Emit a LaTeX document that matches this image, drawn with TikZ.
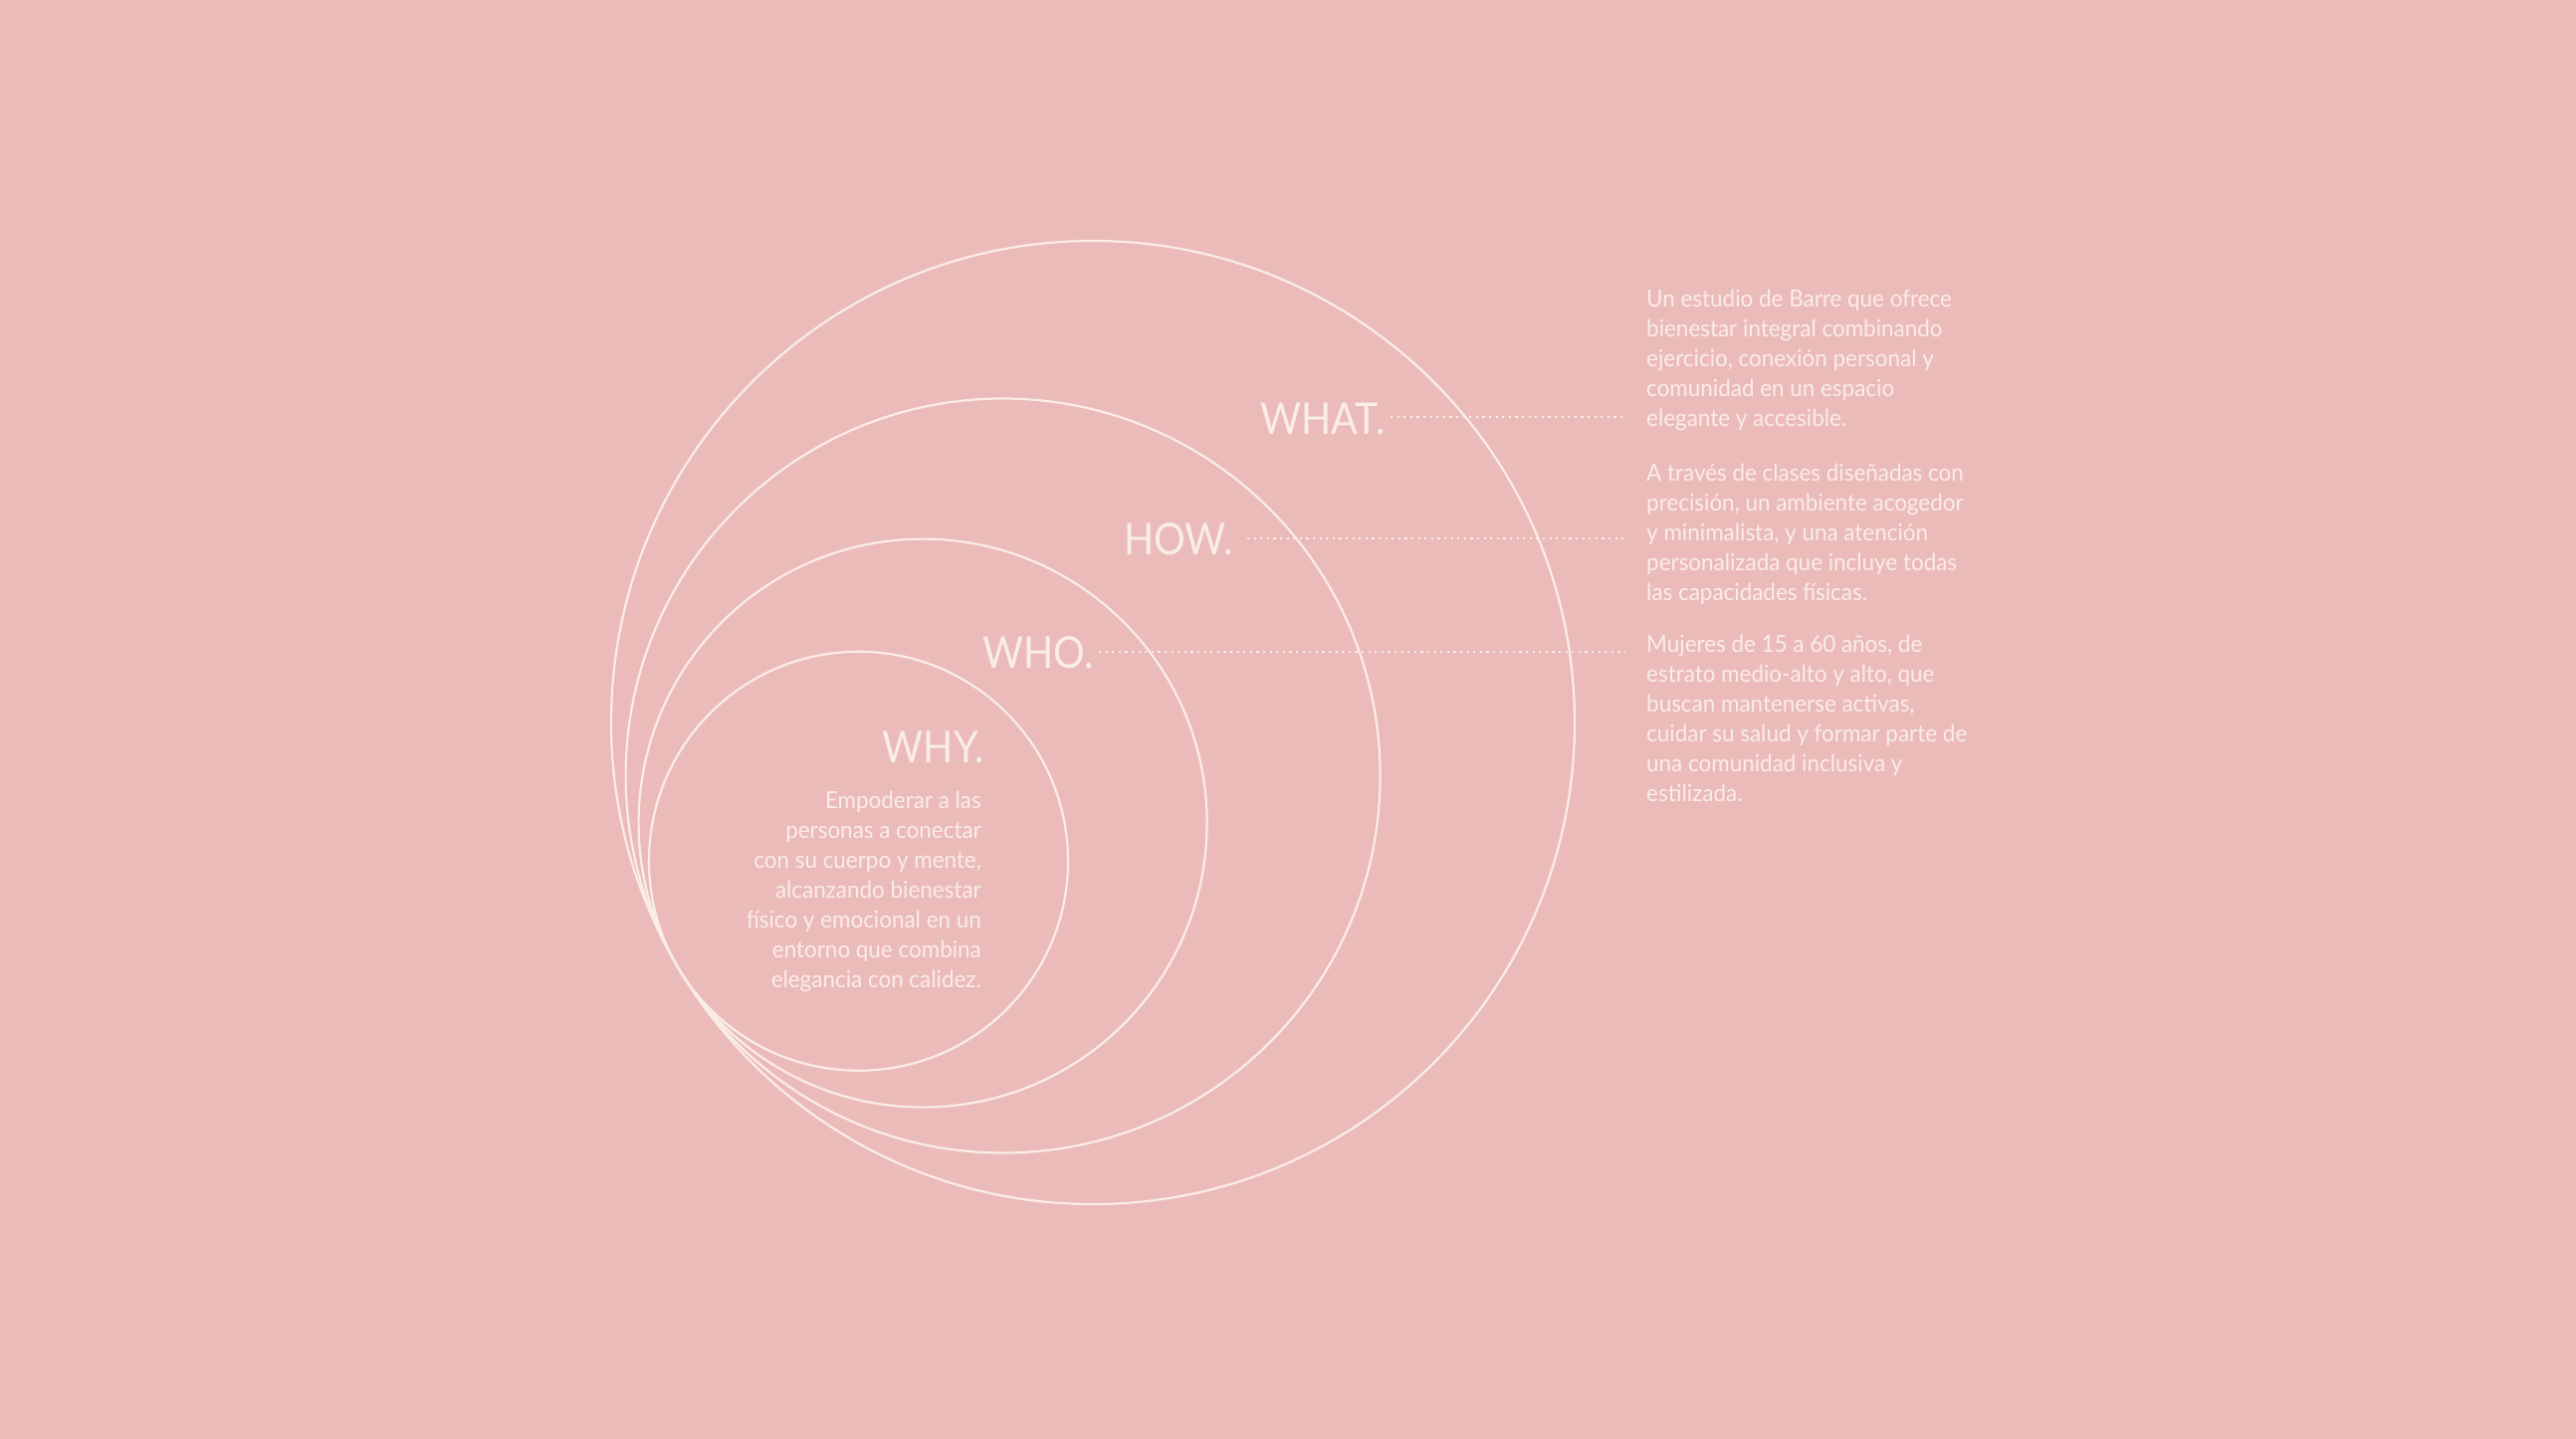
\documentclass[tikz,border=0pt]{standalone}
\usepackage{fontspec}
\setmainfont{Lato}
\definecolor{bgpink}{RGB}{235,187,186}
\definecolor{cream}{RGB}{250,237,229}
\begin{document}
\begin{tikzpicture}[x=1bp,y=-1bp,
  ring/.style={draw=cream, line width=2.2bp},
  lbl/.style={text=cream, inner sep=0, anchor=base east, font=\fontsize{44bp}{44bp}\selectfont\addfontfeature{FakeStretch=0.9}},
  body/.style={text=cream, inner sep=0, font=\fontsize{23.6bp}{30bp}\selectfont\addfontfeature{FakeStretch=0.95}},
  leader/.style={draw=cream, line width=2bp, dash pattern=on 2.2bp off 4.4bp}]
\fill[bgpink] (0,0) rectangle (2588,1446);
\useasboundingbox (0,0) rectangle (2588,1446);
% circles, internally tangent at lower left
\draw[ring] (1098,726) circle[radius=484bp];
\draw[ring] (1007.6,779.5) circle[radius=379bp];
\draw[ring] (927.1,827.1) circle[radius=285.5bp];
\draw[ring] (862.5,865.3) circle[radius=210.5bp];
% labels
\node[lbl] (whatlbl) at (1392,436) {WHAT.};
\node[lbl] (howlbl) at (1239,557) {HOW.};
\node[lbl] (wholbl) at (1099,671) {WHO.};
\node[lbl] (whylbl) at (989,766) {WHY.};
% leader ends
\coordinate (whatstart) at (1397,419);
\coordinate (whatend) at (1633,419);
\coordinate (howstart) at (1253,541);
\coordinate (howend) at (1633,541);
\coordinate (whostart) at (1104,655);
\coordinate (whoend) at (1633,655);
\draw[leader] (whatstart) -- (whatend);
\draw[leader] (howstart) -- (howend);
\draw[leader] (whostart) -- (whoend);
% text blocks
\foreach \t [count=\i from 0] in {{Un estudio de Barre que ofrece},{bienestar integral combinando},{ejercicio, conexión personal y},{comunidad en un espacio},{elegante y accesible.}}
  \node[body, anchor=base west] (whattxt\i) at (1654,{308+30*\i}) {\t};
\foreach \t [count=\i from 0] in {{A través de clases diseñadas con},{precisión, un ambiente acogedor},{y minimalista, y una atención},{personalizada que incluye todas},{las capacidades físicas.}}
  \node[body, anchor=base west] (howtxt\i) at (1654,{483+30*\i}) {\t};
\foreach \t [count=\i from 0] in {{Mujeres de 15 a 60 años, de},{estrato medio-alto y alto, que},{buscan mantenerse activas,},{cuidar su salud y formar parte de},{una comunidad inclusiva y},{estilizada.}}
  \node[body, anchor=base west] (whotxt\i) at (1654,{655+30*\i}) {\t};
\foreach \t [count=\i from 0] in {{Empoderar a las},{personas a conectar},{con su cuerpo y mente,},{alcanzando bienestar},{físico y emocional en un},{entorno que combina},{elegancia con calidez.}}
  \node[body, anchor=base east] (whytxt\i) at (986,{812+30*\i}) {\t};
\end{tikzpicture}
\end{document}
